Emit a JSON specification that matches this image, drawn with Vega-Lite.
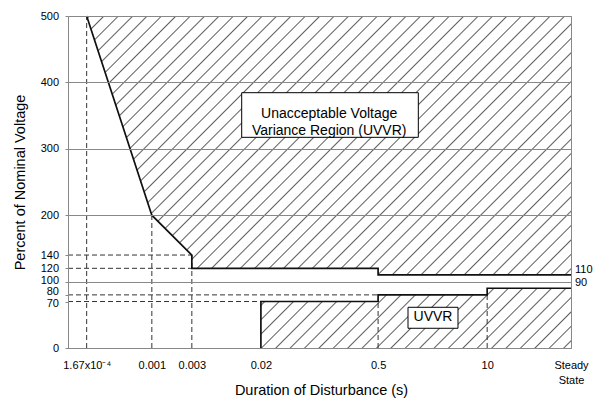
{
  "$schema": "https://vega.github.io/schema/vega-lite/v6.json",
  "width": 503,
  "height": 332,
  "autosize": {"type": "none"},
  "padding": {"left": 68, "top": 16, "right": 22, "bottom": 54},
  "background": "#ffffff",
  "config": {
    "font": "Liberation Sans",
    "view": {"stroke": "#888888", "strokeWidth": 1},
    "axis": {
      "labelFont": "Liberation Sans",
      "titleFont": "Liberation Sans",
      "labelColor": "#000000",
      "titleColor": "#000000",
      "titleFontWeight": "normal",
      "domainColor": "#888888",
      "tickColor": "#888888",
      "labelFontSize": 11,
      "titleFontSize": 14.5,
      "labelOverlap": false,
      "labelBound": false,
      "labelFlush": false
    }
  },
  "datasets": {
    "region": [
      {"x": 0.0001, "lo": 0, "hi": 500},
      {"x": 0.000167, "lo": 0, "hi": 500},
      {"x": 0.001, "lo": 0, "hi": 200},
      {"x": 0.003, "lo": 0, "hi": 140},
      {"x": 0.003, "lo": 0, "hi": 120},
      {"x": 0.02, "lo": 0, "hi": 120},
      {"x": 0.02, "lo": 70, "hi": 120},
      {"x": 0.5, "lo": 70, "hi": 120},
      {"x": 0.5, "lo": 80, "hi": 110},
      {"x": 10, "lo": 80, "hi": 110},
      {"x": 10, "lo": 90, "hi": 110},
      {"x": 100, "lo": 90, "hi": 110}
    ],
    "curves": [
      {"curve": "upper", "i": 0, "x": 0.000167, "v": 500},
      {"curve": "upper", "i": 1, "x": 0.001, "v": 200},
      {"curve": "upper", "i": 2, "x": 0.003, "v": 140},
      {"curve": "upper", "i": 3, "x": 0.003, "v": 120},
      {"curve": "upper", "i": 4, "x": 0.5, "v": 120},
      {"curve": "upper", "i": 5, "x": 0.5, "v": 110},
      {"curve": "upper", "i": 6, "x": 100, "v": 110},
      {"curve": "lower", "i": 0, "x": 0.02, "v": 0},
      {"curve": "lower", "i": 1, "x": 0.02, "v": 70},
      {"curve": "lower", "i": 2, "x": 0.5, "v": 70},
      {"curve": "lower", "i": 3, "x": 0.5, "v": 80},
      {"curve": "lower", "i": 4, "x": 10, "v": 80},
      {"curve": "lower", "i": 5, "x": 10, "v": 90},
      {"curve": "lower", "i": 6, "x": 100, "v": 90}
    ],
    "refs": [
      {"x": 0.0001, "x2": 0.003, "y": 140, "y2": 140},
      {"x": 0.0001, "x2": 0.003, "y": 120, "y2": 120},
      {"x": 0.0001, "x2": 0.5, "y": 80, "y2": 80},
      {"x": 0.0001, "x2": 0.02, "y": 70, "y2": 70},
      {"x": 0.000167, "x2": 0.000167, "y": 0, "y2": 500},
      {"x": 0.001, "x2": 0.001, "y": 0, "y2": 200},
      {"x": 0.003, "x2": 0.003, "y": 0, "y2": 140},
      {"x": 0.5, "x2": 0.5, "y": 0, "y2": 70},
      {"x": 10, "x2": 10, "y": 0, "y2": 80}
    ],
    "notes": [
      {"x1": 0.0118, "x2": 1.509, "y1": 317.3, "y2": 384.5, "tx": 0.1305, "ty": 352, "label": "Unacceptable Voltage\nVariance Region (UVVR)"},
      {"x1": 1.137, "x2": 4.488, "y1": 29.7, "y2": 61.3, "tx": 2.259, "ty": 46, "label": "UVVR"}
    ],
    "edge": [
      {"v": 110, "label": "110"},
      {"v": 90, "label": "90"}
    ]
  },
  "layer": [
    {
      "data": {"values": [{"zone": "hatch"}]},
      "mark": {
        "type": "rect",
        "strokeWidth": 0,
        "fill": {
          "gradient": "linear",
          "x1": 0, "y1": 0, "x2": 1.1563, "y2": 0.7632,
          "stops": [
            {"offset": 0, "color": "#ffffff"},
            {"offset": 0.00692, "color": "#ffffff"}, {"offset": 0.00862, "color": "#5e5e5e"}, {"offset": 0.01032, "color": "#ffffff"},
            {"offset": 0.02416, "color": "#ffffff"}, {"offset": 0.02586, "color": "#5e5e5e"}, {"offset": 0.02756, "color": "#ffffff"},
            {"offset": 0.04140, "color": "#ffffff"}, {"offset": 0.04310, "color": "#5e5e5e"}, {"offset": 0.04480, "color": "#ffffff"},
            {"offset": 0.05864, "color": "#ffffff"}, {"offset": 0.06034, "color": "#5e5e5e"}, {"offset": 0.06204, "color": "#ffffff"},
            {"offset": 0.07589, "color": "#ffffff"}, {"offset": 0.07759, "color": "#5e5e5e"}, {"offset": 0.07929, "color": "#ffffff"},
            {"offset": 0.09313, "color": "#ffffff"}, {"offset": 0.09483, "color": "#5e5e5e"}, {"offset": 0.09653, "color": "#ffffff"},
            {"offset": 0.11037, "color": "#ffffff"}, {"offset": 0.11207, "color": "#5e5e5e"}, {"offset": 0.11377, "color": "#ffffff"},
            {"offset": 0.12761, "color": "#ffffff"}, {"offset": 0.12931, "color": "#5e5e5e"}, {"offset": 0.13101, "color": "#ffffff"},
            {"offset": 0.14485, "color": "#ffffff"}, {"offset": 0.14655, "color": "#5e5e5e"}, {"offset": 0.14825, "color": "#ffffff"},
            {"offset": 0.16209, "color": "#ffffff"}, {"offset": 0.16379, "color": "#5e5e5e"}, {"offset": 0.16549, "color": "#ffffff"},
            {"offset": 0.17933, "color": "#ffffff"}, {"offset": 0.18103, "color": "#5e5e5e"}, {"offset": 0.18273, "color": "#ffffff"},
            {"offset": 0.19658, "color": "#ffffff"}, {"offset": 0.19828, "color": "#5e5e5e"}, {"offset": 0.19998, "color": "#ffffff"},
            {"offset": 0.21382, "color": "#ffffff"}, {"offset": 0.21552, "color": "#5e5e5e"}, {"offset": 0.21722, "color": "#ffffff"},
            {"offset": 0.23106, "color": "#ffffff"}, {"offset": 0.23276, "color": "#5e5e5e"}, {"offset": 0.23446, "color": "#ffffff"},
            {"offset": 0.24830, "color": "#ffffff"}, {"offset": 0.25000, "color": "#5e5e5e"}, {"offset": 0.25170, "color": "#ffffff"},
            {"offset": 0.26554, "color": "#ffffff"}, {"offset": 0.26724, "color": "#5e5e5e"}, {"offset": 0.26894, "color": "#ffffff"},
            {"offset": 0.28278, "color": "#ffffff"}, {"offset": 0.28448, "color": "#5e5e5e"}, {"offset": 0.28618, "color": "#ffffff"},
            {"offset": 0.30002, "color": "#ffffff"}, {"offset": 0.30172, "color": "#5e5e5e"}, {"offset": 0.30342, "color": "#ffffff"},
            {"offset": 0.31727, "color": "#ffffff"}, {"offset": 0.31897, "color": "#5e5e5e"}, {"offset": 0.32067, "color": "#ffffff"},
            {"offset": 0.33451, "color": "#ffffff"}, {"offset": 0.33621, "color": "#5e5e5e"}, {"offset": 0.33791, "color": "#ffffff"},
            {"offset": 0.35175, "color": "#ffffff"}, {"offset": 0.35345, "color": "#5e5e5e"}, {"offset": 0.35515, "color": "#ffffff"},
            {"offset": 0.36899, "color": "#ffffff"}, {"offset": 0.37069, "color": "#5e5e5e"}, {"offset": 0.37239, "color": "#ffffff"},
            {"offset": 0.38623, "color": "#ffffff"}, {"offset": 0.38793, "color": "#5e5e5e"}, {"offset": 0.38963, "color": "#ffffff"},
            {"offset": 0.40347, "color": "#ffffff"}, {"offset": 0.40517, "color": "#5e5e5e"}, {"offset": 0.40687, "color": "#ffffff"},
            {"offset": 0.42071, "color": "#ffffff"}, {"offset": 0.42241, "color": "#5e5e5e"}, {"offset": 0.42411, "color": "#ffffff"},
            {"offset": 0.43796, "color": "#ffffff"}, {"offset": 0.43966, "color": "#5e5e5e"}, {"offset": 0.44136, "color": "#ffffff"},
            {"offset": 0.45520, "color": "#ffffff"}, {"offset": 0.45690, "color": "#5e5e5e"}, {"offset": 0.45860, "color": "#ffffff"},
            {"offset": 0.47244, "color": "#ffffff"}, {"offset": 0.47414, "color": "#5e5e5e"}, {"offset": 0.47584, "color": "#ffffff"},
            {"offset": 0.48968, "color": "#ffffff"}, {"offset": 0.49138, "color": "#5e5e5e"}, {"offset": 0.49308, "color": "#ffffff"},
            {"offset": 0.50692, "color": "#ffffff"}, {"offset": 0.50862, "color": "#5e5e5e"}, {"offset": 0.51032, "color": "#ffffff"},
            {"offset": 0.52416, "color": "#ffffff"}, {"offset": 0.52586, "color": "#5e5e5e"}, {"offset": 0.52756, "color": "#ffffff"},
            {"offset": 0.54140, "color": "#ffffff"}, {"offset": 0.54310, "color": "#5e5e5e"}, {"offset": 0.54480, "color": "#ffffff"},
            {"offset": 0.55864, "color": "#ffffff"}, {"offset": 0.56034, "color": "#5e5e5e"}, {"offset": 0.56204, "color": "#ffffff"},
            {"offset": 0.57589, "color": "#ffffff"}, {"offset": 0.57759, "color": "#5e5e5e"}, {"offset": 0.57929, "color": "#ffffff"},
            {"offset": 0.59313, "color": "#ffffff"}, {"offset": 0.59483, "color": "#5e5e5e"}, {"offset": 0.59653, "color": "#ffffff"},
            {"offset": 0.61037, "color": "#ffffff"}, {"offset": 0.61207, "color": "#5e5e5e"}, {"offset": 0.61377, "color": "#ffffff"},
            {"offset": 0.62761, "color": "#ffffff"}, {"offset": 0.62931, "color": "#5e5e5e"}, {"offset": 0.63101, "color": "#ffffff"},
            {"offset": 0.64485, "color": "#ffffff"}, {"offset": 0.64655, "color": "#5e5e5e"}, {"offset": 0.64825, "color": "#ffffff"},
            {"offset": 0.66209, "color": "#ffffff"}, {"offset": 0.66379, "color": "#5e5e5e"}, {"offset": 0.66549, "color": "#ffffff"},
            {"offset": 0.67933, "color": "#ffffff"}, {"offset": 0.68103, "color": "#5e5e5e"}, {"offset": 0.68273, "color": "#ffffff"},
            {"offset": 0.69658, "color": "#ffffff"}, {"offset": 0.69828, "color": "#5e5e5e"}, {"offset": 0.69998, "color": "#ffffff"},
            {"offset": 0.71382, "color": "#ffffff"}, {"offset": 0.71552, "color": "#5e5e5e"}, {"offset": 0.71722, "color": "#ffffff"},
            {"offset": 0.73106, "color": "#ffffff"}, {"offset": 0.73276, "color": "#5e5e5e"}, {"offset": 0.73446, "color": "#ffffff"},
            {"offset": 0.74830, "color": "#ffffff"}, {"offset": 0.75000, "color": "#5e5e5e"}, {"offset": 0.75170, "color": "#ffffff"},
            {"offset": 0.76554, "color": "#ffffff"}, {"offset": 0.76724, "color": "#5e5e5e"}, {"offset": 0.76894, "color": "#ffffff"},
            {"offset": 0.78278, "color": "#ffffff"}, {"offset": 0.78448, "color": "#5e5e5e"}, {"offset": 0.78618, "color": "#ffffff"},
            {"offset": 0.80002, "color": "#ffffff"}, {"offset": 0.80172, "color": "#5e5e5e"}, {"offset": 0.80342, "color": "#ffffff"},
            {"offset": 0.81727, "color": "#ffffff"}, {"offset": 0.81897, "color": "#5e5e5e"}, {"offset": 0.82067, "color": "#ffffff"},
            {"offset": 0.83451, "color": "#ffffff"}, {"offset": 0.83621, "color": "#5e5e5e"}, {"offset": 0.83791, "color": "#ffffff"},
            {"offset": 0.85175, "color": "#ffffff"}, {"offset": 0.85345, "color": "#5e5e5e"}, {"offset": 0.85515, "color": "#ffffff"},
            {"offset": 0.86899, "color": "#ffffff"}, {"offset": 0.87069, "color": "#5e5e5e"}, {"offset": 0.87239, "color": "#ffffff"},
            {"offset": 0.88623, "color": "#ffffff"}, {"offset": 0.88793, "color": "#5e5e5e"}, {"offset": 0.88963, "color": "#ffffff"},
            {"offset": 0.90347, "color": "#ffffff"}, {"offset": 0.90517, "color": "#5e5e5e"}, {"offset": 0.90687, "color": "#ffffff"},
            {"offset": 0.92071, "color": "#ffffff"}, {"offset": 0.92241, "color": "#5e5e5e"}, {"offset": 0.92411, "color": "#ffffff"},
            {"offset": 0.93796, "color": "#ffffff"}, {"offset": 0.93966, "color": "#5e5e5e"}, {"offset": 0.94136, "color": "#ffffff"},
            {"offset": 0.95520, "color": "#ffffff"}, {"offset": 0.95690, "color": "#5e5e5e"}, {"offset": 0.95860, "color": "#ffffff"},
            {"offset": 0.97244, "color": "#ffffff"}, {"offset": 0.97414, "color": "#5e5e5e"}, {"offset": 0.97584, "color": "#ffffff"},
            {"offset": 0.98968, "color": "#ffffff"}, {"offset": 0.99138, "color": "#5e5e5e"}, {"offset": 0.99308, "color": "#ffffff"},
            {"offset": 1, "color": "#ffffff"}
          ]
        }
      },
      "encoding": {
        "x": {
          "datum": 0.0001,
          "type": "quantitative",
          "scale": {"type": "log", "domain": [0.0001, 100], "nice": false},
          "axis": {
            "title": "Duration of Disturbance (s)",
            "values": [0.000167, 0.001, 0.003, 0.02, 0.5, 10, 100],
            "tickCount": 20,
            "labelExpr": "datum.value < 0.0005 ? '1.67x10⁻⁴' : (datum.value > 50 ? ['Steady', 'State'] : format(datum.value, '~g'))",
            "labelOverlap": false,
            "ticks": false,
            "tickSize": 0,
            "labelPadding": 17,
            "labelBaseline": "middle",
            "labelLineHeight": 15,
            "grid": false,
            "zindex": 1,
            "titleX": 253,
            "titleY": 46.5,
            "titleBaseline": "alphabetic",
            "titleAlign": "center"
          }
        },
        "x2": {"datum": 100},
        "y": {
          "datum": 0,
          "type": "quantitative",
          "scale": {"domain": [0, 500], "nice": false},
          "axis": {
            "title": "Percent of Nominal Voltage",
            "values": [0, 70, 80, 100, 120, 140, 200, 300, 400, 500],
            "tickCount": 20,
            "labelOverlap": false,
            "tickSize": 3,
            "labelPadding": 6.5,
            "labelOffset": {"condition": [{"test": "datum.value == 80", "value": -3}, {"test": "datum.value == 70", "value": 1.5}, {"test": "datum.value == 100", "value": -1.5}], "value": 0},
            "grid": true,
            "zindex": 1,
            "gridColor": {"condition": {"test": "datum.value == 100 || datum.value == 200 || datum.value == 300 || datum.value == 400 || datum.value == 500", "value": "#888888"}, "value": "transparent"},
            "titleX": -44,
            "titleY": 166,
            "titleAngle": -90,
            "titleBaseline": "alphabetic",
            "titleAlign": "center"
          }
        },
        "y2": {"datum": 500}
      }
    },
    {
      "data": {"name": "region"},
      "mark": {"type": "area", "fill": "#ffffff", "opacity": 1, "strokeWidth": 0},
      "encoding": {
        "x": {"field": "x", "type": "quantitative"},
        "y": {"field": "hi", "type": "quantitative"},
        "y2": {"field": "lo"}
      }
    },
    {
      "data": {"name": "refs"},
      "mark": {"type": "rule", "color": "#333333", "strokeWidth": 1, "strokeDash": [5, 3]},
      "encoding": {
        "x": {"field": "x", "type": "quantitative"},
        "x2": {"field": "x2"},
        "y": {"field": "y", "type": "quantitative"},
        "y2": {"field": "y2"}
      }
    },
    {
      "data": {"name": "curves"},
      "mark": {"type": "line", "color": "#111111", "strokeWidth": 1.7},
      "encoding": {
        "x": {"field": "x", "type": "quantitative"},
        "y": {"field": "v", "type": "quantitative"},
        "detail": {"field": "curve"},
        "order": {"field": "i", "type": "quantitative"}
      }
    },
    {
      "data": {"name": "notes"},
      "mark": {"type": "rect", "fill": "#ffffff", "stroke": "#000000", "strokeWidth": 1},
      "encoding": {
        "x": {"field": "x1", "type": "quantitative"},
        "x2": {"field": "x2"},
        "y": {"field": "y1", "type": "quantitative"},
        "y2": {"field": "y2"}
      }
    },
    {
      "data": {"name": "notes"},
      "mark": {"type": "text", "fontSize": 14, "lineBreak": "\n", "lineHeight": 17, "align": "center", "baseline": "middle", "color": "#000000", "font": "Liberation Sans"},
      "encoding": {
        "x": {"field": "tx", "type": "quantitative"},
        "y": {"field": "ty", "type": "quantitative"},
        "text": {"field": "label"}
      }
    },
    {
      "data": {"name": "edge"},
      "mark": {"type": "text", "fontSize": 11, "align": "left", "baseline": "alphabetic", "dx": 4, "dy": -2, "color": "#000000", "font": "Liberation Sans"},
      "encoding": {
        "x": {"datum": 100},
        "y": {"field": "v", "type": "quantitative"},
        "text": {"field": "label"}
      }
    }
  ]
}
